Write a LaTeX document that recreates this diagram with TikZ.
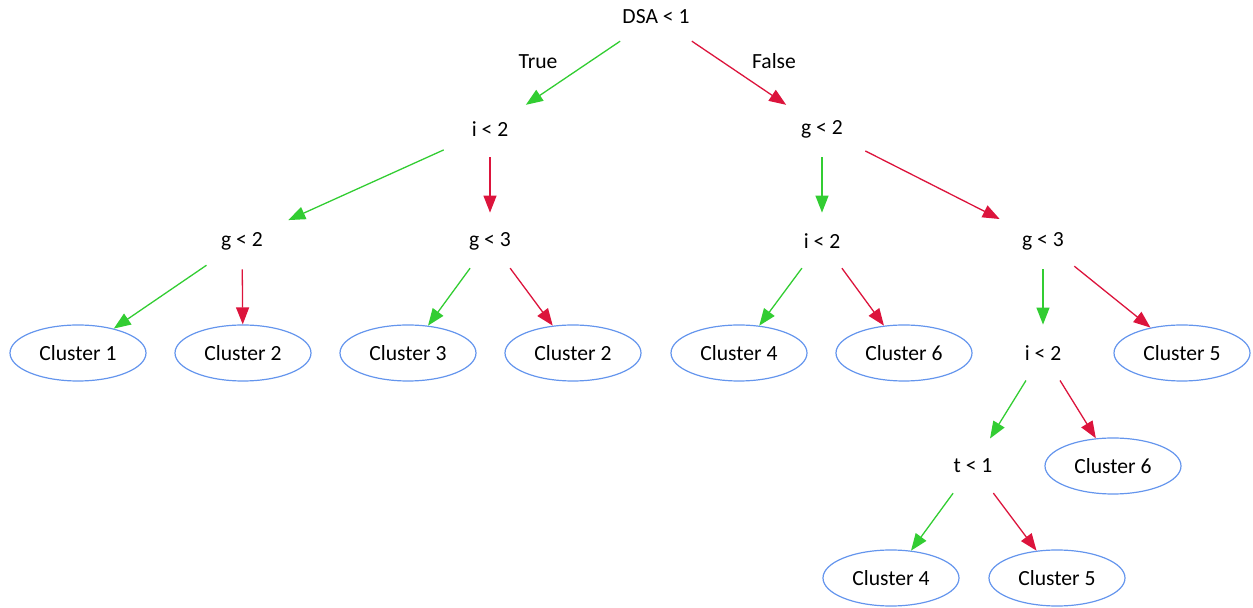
\documentclass[tikz,border=0pt]{standalone}
\usepackage{fontspec}
\setmainfont{Carlito}
\usetikzlibrary{shapes.geometric,arrows.meta}
\definecolor{yesgreen}{HTML}{32CD32}
\definecolor{nored}{HTML}{DC143C}
\definecolor{leafblue}{HTML}{6495ED}
\tikzset{
    test/.style={ellipse, minimum width=68pt, minimum height=28pt, inner sep=0pt,
                 font=\fontsize{10.8}{13}\selectfont},
    leaf/.style={test, draw=leafblue, line width=0.6pt},
    yes/.style={draw=yesgreen, line width=0.65pt, -{Triangle[length=8.5pt,width=6.5pt]}},
    no/.style={draw=nored, line width=0.65pt, -{Triangle[length=8.5pt,width=6.5pt]}},
    edgelbl/.style={font=\fontsize{10.8}{13}\selectfont}
}
\begin{document}
\begin{tikzpicture}[x=0.5pt, y=-0.5pt]
                \useasboundingbox (0,0) rectangle (1253,608);

                % Tests
                \node[test] (dsa) at (656,17) {DSA < 1};
                \node[test] (iA) at (490,129) {i < 2};
                \node[test] (gA) at (822,129) {g < 2};
                \node[test] (gB) at (242,241) {g < 2};
                \node[test] (gC) at (490,241) {g < 3};
                \node[test] (iB) at (822,241) {i < 2};
                \node[test] (gD) at (1043,241) {g < 3};
                \node[test] (iC) at (1043,353) {i < 2};
                \node[test] (tA) at (973,466) {t < 1};

                % Clusters
                \node[leaf] (c1) at (78,353) {Cluster 1};
                \node[leaf] (c2a) at (243,353) {Cluster 2};
                \node[leaf] (c3) at (408,353) {Cluster 3};
                \node[leaf] (c2b) at (573,353) {Cluster 2};
                \node[leaf] (c4a) at (739,353) {Cluster 4};
                \node[leaf] (c6a) at (904,353) {Cluster 6};
                \node[leaf] (c5a) at (1182,353) {Cluster 5};
                \node[leaf] (c6b) at (1113,466) {Cluster 6};
                \node[leaf] (c4b) at (891,578) {Cluster 4};
                \node[leaf] (c5b) at (1057,578) {Cluster 5};

                % Branches
                \draw[yes] (dsa) -- (iA) node[edgelbl, midway, xshift=-17.5pt, yshift=5.75pt] {True};
                \draw[no] (dsa) -- (gA) node[edgelbl, midway, xshift=17.5pt, yshift=5.75pt] {False};
                \draw[yes] (iA) -- (gB);
                \draw[no] (iA) -- (gC);
                \draw[yes] (gA) -- (iB);
                \draw[no] (gA) -- (gD);
                \draw[yes] (gB) -- (c1);
                \draw[no] (gB) -- (c2a);
                \draw[yes] (gC) -- (c3);
                \draw[no] (gC) -- (c2b);
                \draw[yes] (iB) -- (c4a);
                \draw[no] (iB) -- (c6a);
                \draw[yes] (gD) -- (iC);
                \draw[no] (gD) -- (c5a);
                \draw[yes] (iC) -- (tA);
                \draw[no] (iC) -- (c6b);
                \draw[yes] (tA) -- (c4b);
                \draw[no] (tA) -- (c5b);
\end{tikzpicture}
\end{document}
